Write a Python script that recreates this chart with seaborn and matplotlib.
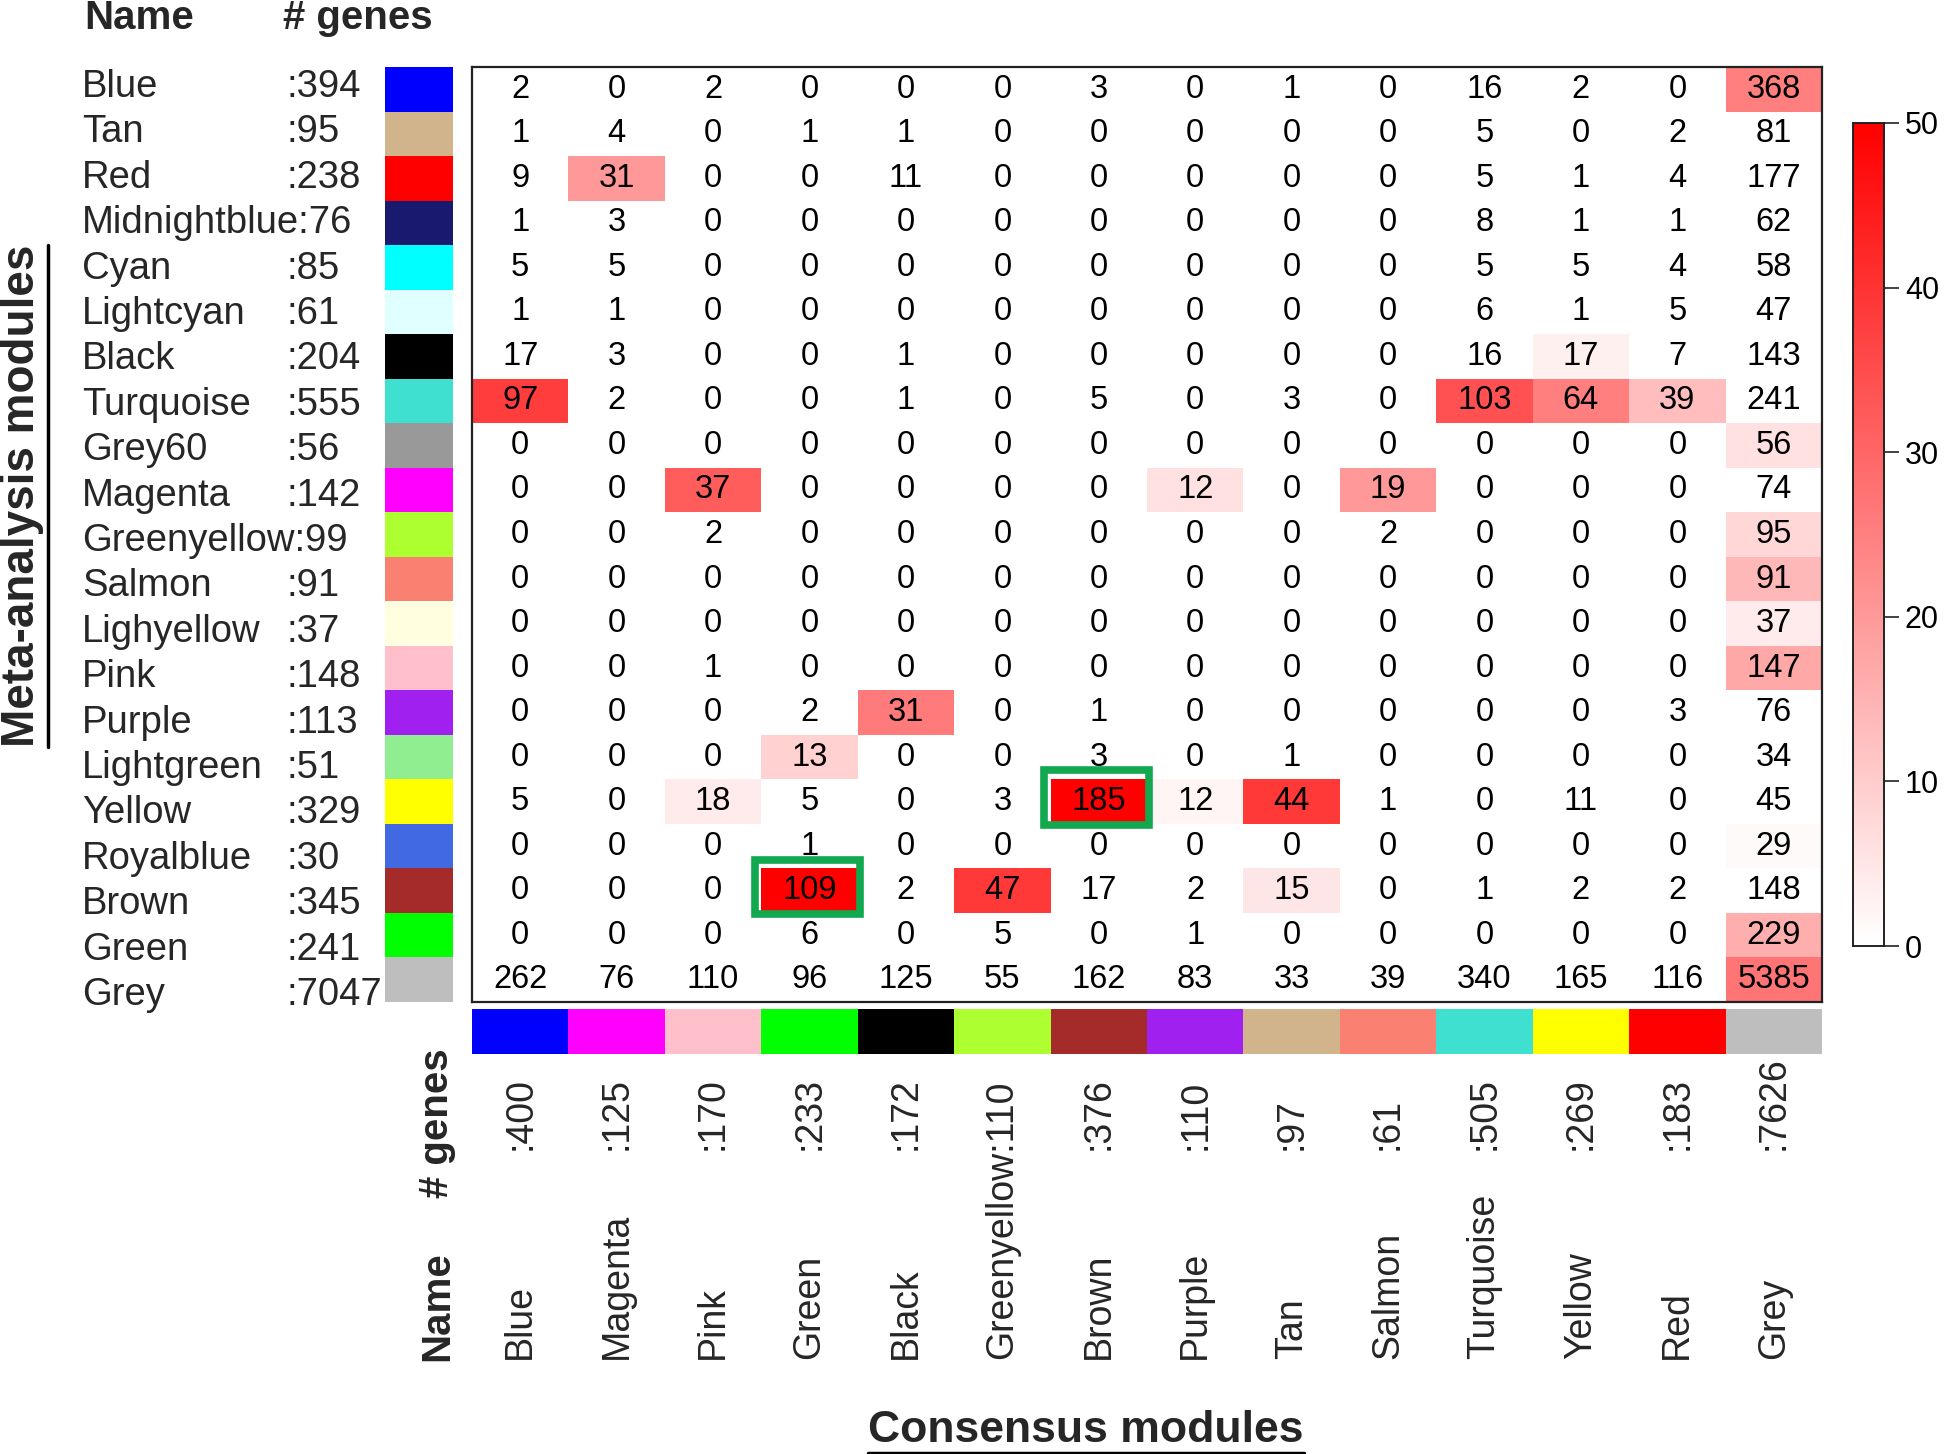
import numpy as np
import pandas as pd
import matplotlib
matplotlib.use('Agg')
import matplotlib.pyplot as plt
import matplotlib.transforms as mtransforms
from matplotlib.colors import ListedColormap, LinearSegmentedColormap
from matplotlib.patches import Rectangle
from matplotlib.lines import Line2D
import seaborn as sns

# meta-analysis modules (rows)
row_names = ['Blue', 'Tan', 'Red', 'Midnightblue', 'Cyan', 'Lightcyan', 'Black',
             'Turquoise', 'Grey60', 'Magenta', 'Greenyellow', 'Salmon', 'Lighyellow',
             'Pink', 'Purple', 'Lightgreen', 'Yellow', 'Royalblue', 'Brown', 'Green', 'Grey']
row_genes = [394, 95, 238, 76, 85, 61, 204, 555, 56, 142, 99, 91, 37, 148, 113,
             51, 329, 30, 345, 241, 7047]
row_colors = ['#0000ff', '#d2b48c', '#ff0000', '#191970', '#00ffff', '#e0ffff', '#000000',
              '#40e0d0', '#999999', '#ff00ff', '#adff2f', '#fa8072', '#ffffe0',
              '#ffc0cb', '#a020f0', '#90ee90', '#ffff00', '#4169e1', '#a52a2a',
              '#00ff00', '#bebebe']

# consensus modules (columns)
col_names = ['Blue', 'Magenta', 'Pink', 'Green', 'Black', 'Greenyellow', 'Brown',
             'Purple', 'Tan', 'Salmon', 'Turquoise', 'Yellow', 'Red', 'Grey']
col_genes = [400, 125, 170, 233, 172, 110, 376, 110, 97, 61, 505, 269, 183, 7626]
col_colors = ['#0000ff', '#ff00ff', '#ffc0cb', '#00ff00', '#000000', '#adff2f',
              '#a52a2a', '#a020f0', '#d2b48c', '#fa8072', '#40e0d0', '#ffff00',
              '#ff0000', '#bebebe']

# overlap counts
counts = [
    [2, 0, 2, 0, 0, 0, 3, 0, 1, 0, 16, 2, 0, 368],
    [1, 4, 0, 1, 1, 0, 0, 0, 0, 0, 5, 0, 2, 81],
    [9, 31, 0, 0, 11, 0, 0, 0, 0, 0, 5, 1, 4, 177],
    [1, 3, 0, 0, 0, 0, 0, 0, 0, 0, 8, 1, 1, 62],
    [5, 5, 0, 0, 0, 0, 0, 0, 0, 0, 5, 5, 4, 58],
    [1, 1, 0, 0, 0, 0, 0, 0, 0, 0, 6, 1, 5, 47],
    [17, 3, 0, 0, 1, 0, 0, 0, 0, 0, 16, 17, 7, 143],
    [97, 2, 0, 0, 1, 0, 5, 0, 3, 0, 103, 64, 39, 241],
    [0, 0, 0, 0, 0, 0, 0, 0, 0, 0, 0, 0, 0, 56],
    [0, 0, 37, 0, 0, 0, 0, 12, 0, 19, 0, 0, 0, 74],
    [0, 0, 2, 0, 0, 0, 0, 0, 0, 2, 0, 0, 0, 95],
    [0, 0, 0, 0, 0, 0, 0, 0, 0, 0, 0, 0, 0, 91],
    [0, 0, 0, 0, 0, 0, 0, 0, 0, 0, 0, 0, 0, 37],
    [0, 0, 1, 0, 0, 0, 0, 0, 0, 0, 0, 0, 0, 147],
    [0, 0, 0, 2, 31, 0, 1, 0, 0, 0, 0, 0, 3, 76],
    [0, 0, 0, 13, 0, 0, 3, 0, 1, 0, 0, 0, 0, 34],
    [5, 0, 18, 5, 0, 3, 185, 12, 44, 1, 0, 11, 0, 45],
    [0, 0, 0, 1, 0, 0, 0, 0, 0, 0, 0, 0, 0, 29],
    [0, 0, 0, 109, 2, 47, 17, 2, 15, 0, 1, 2, 2, 148],
    [0, 0, 0, 6, 0, 5, 0, 1, 0, 0, 0, 0, 0, 229],
    [262, 76, 110, 96, 125, 55, 162, 83, 33, 39, 340, 165, 116, 5385],
]

# -log10(p) used for the cell colour (capped at 50)
signif = [
    [0, 0, 0, 0, 0, 0, 0, 0, 0, 0, 0, 0, 0, 25],
    [0, 0, 0, 0, 0, 0, 0, 0, 0, 0, 0, 0, 0, 0],
    [0, 20, 0, 0, 0, 0, 0, 0, 0, 0, 0, 0, 0, 0],
    [0, 0, 0, 0, 0, 0, 0, 0, 0, 0, 0, 0, 0, 0],
    [0, 0, 0, 0, 0, 0, 0, 0, 0, 0, 0, 0, 0, 0],
    [0, 0, 0, 0, 0, 0, 0, 0, 0, 0, 0, 0, 0, 0],
    [0, 0, 0, 0, 0, 0, 0, 0, 0, 0, 0, 3, 0, 0],
    [38, 0, 0, 0, 0, 0, 0, 0, 0, 0, 34, 25, 13, 0],
    [0, 0, 0, 0, 0, 0, 0, 0, 0, 0, 0, 0, 0, 6],
    [0, 0, 32, 0, 0, 0, 0, 6, 0, 20, 0, 0, 0, 0],
    [0, 0, 0, 0, 0, 0, 0, 0, 0, 0, 0, 0, 0, 8],
    [0, 0, 0, 0, 0, 0, 0, 0, 0, 0, 0, 0, 0, 14],
    [0, 0, 0, 0, 0, 0, 0, 0, 0, 0, 0, 0, 0, 4],
    [0, 0, 0, 0, 0, 0, 0, 0, 0, 0, 0, 0, 0, 17],
    [0, 0, 0, 0, 26, 0, 0, 0, 0, 0, 0, 0, 0, 0],
    [0, 0, 0, 9, 0, 0, 0, 0, 0, 0, 0, 0, 0, 0],
    [0, 0, 4, 0, 0, 0, 50, 2, 39, 0, 0, 0, 0, 0],
    [0, 0, 0, 0, 0, 0, 0, 0, 0, 0, 0, 0, 0, 1],
    [0, 0, 0, 50, 0, 39, 0, 0, 5, 0, 0, 0, 0, 0],
    [0, 0, 0, 0, 0, 0, 0, 0, 0, 0, 0, 0, 0, 16],
    [0, 0, 0, 0, 0, 0, 0, 0, 0, 0, 0, 0, 0, 27],
]

# highlighted cells (row, col)
highlight = [(18, 3), (16, 6)]

sns.set_style('white')
plt.rcParams['font.family'] = ['Liberation Sans', 'DejaVu Sans']

W, H = 1946, 1454
fig = plt.figure(figsize=(W / 100, H / 100), dpi=100)

def fx(px):
    return px / W

def fy(py):
    return 1 - py / H

left, right, top, bottom = 472, 1822, 67, 1002
ax = fig.add_axes([fx(left), fy(bottom), fx(right - left), (bottom - top) / H])
ax_row = fig.add_axes([fx(385), fy(bottom), fx(453 - 385), (bottom - top) / H])
ax_col = fig.add_axes([fx(left), fy(1054), fx(right - left), (1054 - 1009) / H])
cax = fig.add_axes([fx(1853), fy(946), fx(1884 - 1853), (946 - 123) / H])

cmap = LinearSegmentedColormap.from_list('wr', ['#ffffff', '#ff0000'])
sig_df = pd.DataFrame(signif, index=row_names, columns=col_names)
sns.heatmap(sig_df, annot=np.array(counts), fmt='d', cmap=cmap, vmin=0, vmax=50,
            ax=ax, cbar_ax=cax, xticklabels=False, yticklabels=False,
            annot_kws={'size': 23.5, 'color': 'black'})
for s in ax.spines.values():
    s.set_visible(True)
    s.set_linewidth(1.6)
    s.set_color('#222222')

for r, c in highlight:
    ax.add_patch(Rectangle((c - 0.07, r - 0.2), 1.09, 1.22, fill=False,
                           edgecolor='#12a84f', linewidth=5.5, clip_on=False, zorder=5))

cax.yaxis.set_ticks_position('right')
cax.set_yticks([0, 10, 20, 30, 40, 50])
cax.tick_params(axis='y', length=11, width=1.2, labelsize=22, pad=4,
                color='#222222', labelcolor='black')
cax.set_ylim(0, 50)
for s in cax.spines.values():
    s.set_visible(True)
    s.set_linewidth(1.2)
    s.set_color('#222222')

nr, nc = len(row_names), len(col_names)
sns.heatmap(np.arange(nr).reshape(-1, 1), cmap=ListedColormap(row_colors),
            vmin=-0.5, vmax=nr - 0.5, cbar=False, ax=ax_row,
            xticklabels=False, yticklabels=False)
sns.heatmap(np.arange(nc).reshape(1, -1), cmap=ListedColormap(col_colors),
            vmin=-0.5, vmax=nc - 0.5, cbar=False, ax=ax_col,
            xticklabels=False, yticklabels=False)

# row labels (slightly wider spaced than the rows, as in the original)
for i, (name, n) in enumerate(zip(row_names, row_genes)):
    y = fy(87 + i * (995 - 87) / (nr - 1))
    if len(name) >= 11:
        fig.text(fx(82), y, f'{name}:{n}', ha='left', va='center', fontsize=27.5)
    else:
        fig.text(fx(82), y, name, ha='left', va='center', fontsize=27.5)
        fig.text(fx(287), y, f':{n}', ha='left', va='center', fontsize=27.5)
fig.text(fx(84), fy(18), 'Name', ha='left', va='center', fontsize=29, fontweight='bold')
fig.text(fx(283), fy(18), '# genes', ha='left', va='center', fontsize=29, fontweight='bold')

# column labels
tc = mtransforms.blended_transform_factory(ax.transData, fig.transFigure)
for j, (name, n) in enumerate(zip(col_names, col_genes)):
    if len(name) >= 11:
        ax.text(j + 0.5, fy(1359), f'{name}:{n}', transform=tc, rotation=90,
                ha='center', va='bottom', fontsize=27)
    else:
        ax.text(j + 0.5, fy(1359), name, transform=tc, rotation=90,
                ha='center', va='bottom', fontsize=27)
        ax.text(j + 0.5, fy(1150), f':{n}', transform=tc, rotation=90,
                ha='center', va='bottom', fontsize=27)
fig.text(fx(437), fy(1361), 'Name', rotation=90, ha='center', va='bottom',
         fontsize=29, fontweight='bold')
fig.text(fx(437), fy(1198), '# genes', rotation=90, ha='center', va='bottom',
         fontsize=29, fontweight='bold')

# axis titles, underlined
ylab = fig.text(fx(22), fy(496), 'Meta-analysis modules', rotation=90, ha='center',
                va='center', fontsize=33, fontweight='bold')
xlab = fig.text(fx(1086), fy(1431), 'Consensus modules', ha='center', va='center',
                fontsize=32, fontweight='bold')

fig.canvas.draw()
rend = fig.canvas.get_renderer()
inv = fig.transFigure.inverted()
bb = inv.transform_bbox(ylab.get_window_extent(rend))
fig.add_artist(Line2D([bb.x1 + 0.002, bb.x1 + 0.002], [bb.y0, bb.y1], color='black',
                      linewidth=2.5, transform=fig.transFigure))
bb = inv.transform_bbox(xlab.get_window_extent(rend))
fig.add_artist(Line2D([bb.x0, bb.x1], [bb.y0 - 0.001, bb.y0 - 0.001], color='black',
                      linewidth=2.5, transform=fig.transFigure))

fig.savefig('out.png', dpi=100)
